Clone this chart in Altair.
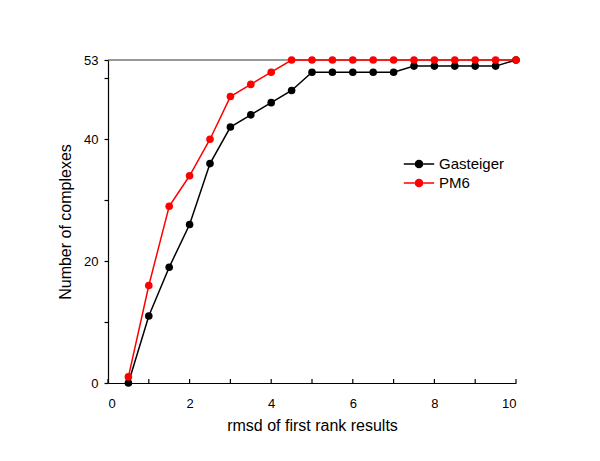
import altair as alt
import pandas as pd

rmsd = [0.5, 1, 1.5, 2, 2.5, 3, 3.5, 4, 4.5, 5, 5.5, 6, 6.5, 7, 7.5, 8, 8.5, 9, 9.5, 10]
gasteiger = [0, 11, 19, 26, 36, 42, 44, 46, 48, 51, 51, 51, 51, 51, 52, 52, 52, 52, 52, 53]
pm6 = [1, 16, 29, 34, 40, 47, 49, 51, 53, 53, 53, 53, 53, 53, 53, 53, 53, 53, 53, 53]
series_names = ["Gasteiger", "PM6"]
series_colors = ["#000000", "#ff0000"]
x_ticks = [0, 1, 2, 3, 4, 5, 6, 7, 8, 9, 10]
y_ticks = [0, 10, 20, 30, 40, 50, 53]
top_value = 53

rows = []
for x, g, p in zip(rmsd, gasteiger, pm6):
    rows.append({"rmsd": x, "n": g, "series": "Gasteiger"})
    rows.append({"rmsd": x, "n": p, "series": "PM6"})
df = pd.DataFrame(rows)

font = "Liberation Sans"

xs = alt.Scale(domain=[0, 10], nice=False, zero=False)
ys = alt.Scale(domain=[0, 53], nice=False, zero=False)
cs = alt.Scale(domain=series_names, range=series_colors)

legend_path = ("M-1.9,0H-0.55M0.55,0H1.9"
               "M-0.45,0a0.45,0.45 0 1,0 0.9,0a0.45,0.45 0 1,0 -0.9,0Z")

x_enc = alt.X("rmsd:Q", scale=xs, title="rmsd of first rank results",
              axis=alt.Axis(values=x_ticks, grid=False,
                            labelExpr="datum.value % 2 == 0 ? datum.label : ''",
                            tickSize=0, labelPadding=14, titlePadding=7))
y_enc = alt.Y("n:Q", scale=ys, title="Number of complexes",
              axis=alt.Axis(values=y_ticks, grid=False,
                            labelExpr="(datum.value == 10 || datum.value == 30 || datum.value == 50) ? '' : datum.label",
                            tickSize=4, labelPadding=6, titlePadding=10))

top_rule = alt.Chart(pd.DataFrame({"y": [top_value], "x": [0], "x2": [10]})).mark_rule(
    color="#333333", strokeWidth=1
).encode(x=alt.X("x:Q", scale=xs), x2="x2:Q", y=alt.Y("y:Q", scale=ys))

x_tick_marks = alt.Chart(pd.DataFrame({"t": x_ticks})).mark_rule(
    color="#000000", strokeWidth=1.2
).encode(x=alt.X("t:Q", scale=xs), y=alt.value(323), y2=alt.value(319))

lines = alt.Chart(df).mark_line(strokeWidth=1.5).encode(
    x=x_enc, y=y_enc,
    color=alt.Color("series:N", scale=cs, title=None,
                    legend=alt.Legend(orient="none", legendX=302, legendY=95,
                                      symbolType=legend_path, symbolSize=256,
                                      symbolStrokeWidth=1.5,
                                      labelFont=font, labelFontSize=15,
                                      labelColor="#000000", rowPadding=2,
                                      labelOffset=11)),
)

points = alt.Chart(df).mark_circle(size=58, opacity=1).encode(
    x=alt.X("rmsd:Q", scale=xs), y=alt.Y("n:Q", scale=ys),
    color=alt.Color("series:N", scale=cs, legend=None),
)

chart = alt.layer(top_rule, x_tick_marks, lines, points).properties(
    width=408, height=323,
    autosize=alt.AutoSizeParams(type="none"),
    padding={"left": 100, "top": 52, "right": 76, "bottom": 60},
).configure_view(stroke=None).configure_axis(
    domainColor="#000000", tickColor="#000000", domainWidth=1.2, tickWidth=1.2,
    labelFont=font, labelFontSize=13, labelColor="#000000",
    titleFont=font, titleFontSize=16, titleFontWeight="normal", titleColor="#000000",
)

chart.save("out.html", embed_options={"renderer": "svg", "actions": False})
